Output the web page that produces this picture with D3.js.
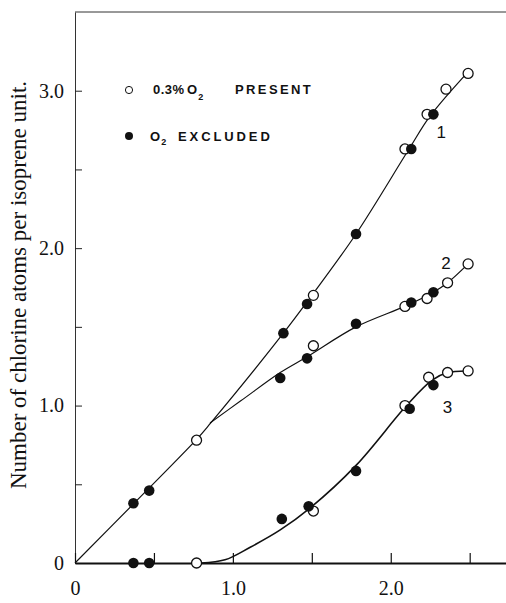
<!DOCTYPE html>
<html>
<head>
<meta charset="utf-8">
<script src="https://cdn.jsdelivr.net/npm/d3@7"></script>
<style>
  body { margin: 0; background: #fff; }
  svg { display: block; }
</style>
</head>
<body>
<script>
// measured points, [x, chlorine atoms per isoprene unit]
var curve1Open = [[0.77, 0.78], [1.51, 1.70], [2.09, 2.63], [2.23, 2.85], [2.35, 3.01], [2.49, 3.11]];
var curve1Filled = [[0.37, 0.38], [0.47, 0.46], [1.32, 1.46], [1.47, 1.645], [1.78, 2.09], [2.13, 2.63], [2.27, 2.85]];
var curve2Open = [[1.51, 1.38], [2.09, 1.63], [2.23, 1.68], [2.36, 1.78], [2.49, 1.90]];
var curve2Filled = [[1.30, 1.175], [1.47, 1.30], [1.78, 1.52], [2.13, 1.655], [2.27, 1.72]];
var curve3Open = [[0.77, 0], [1.51, 0.33], [2.09, 1.0], [2.24, 1.18], [2.36, 1.21], [2.49, 1.22]];
var curve3Filled = [[0.37, 0], [0.47, 0], [1.31, 0.28], [1.48, 0.36], [1.78, 0.585], [2.12, 0.98], [2.27, 1.13]];

// hand drawn curves
var curve1Line = [[0, 0], [0.37, 0.375], [0.77, 0.785], [0.86, 0.89], [1.32, 1.46], [1.5, 1.70], [1.78, 2.09], [2.11, 2.62], [2.25, 2.84], [2.49, 3.12]];
var curve2Line = [[0.855, 0.89], [1.05, 1.03], [1.3, 1.21], [1.47, 1.31], [1.78, 1.5], [2.1, 1.635], [2.27, 1.72], [2.36, 1.78], [2.49, 1.9]];
var curve3Line = [[0.8, 0], [0.95, 0.02], [1.11, 0.1], [1.3, 0.21], [1.49, 0.35], [1.78, 0.62], [2.1, 1.0], [2.26, 1.16], [2.36, 1.21], [2.49, 1.22]];

var curveLabels = [{ name: '1', at: [2.32, 2.70] }, { name: '2', at: [2.35, 1.87] }, { name: '3', at: [2.36, 0.95] }];

var xTicks = [0, 0.5, 1.0, 1.5, 2.0, 2.5];
var xTickLabels = { 0: '0', 1: '1.0', 2: '2.0' };
var yTicks = [0, 0.5, 1.0, 1.5, 2.0, 2.5, 3.0];
var yTickLabels = { 0: '0', 1: '1.0', 2: '2.0', 3: '3.0' };
var yTitle = 'Number of chlorine atoms per isoprene unit.';

var svg = d3.select('body').append('svg').attr('width', 506).attr('height', 603);

var xScale = d3.scaleLinear().domain([0, 2.73]).range([75, 506]);
var yScale = d3.scaleLinear().domain([0, 3.5]).range([563, 12]);

var serif = '"Liberation Serif", "DejaVu Serif", serif';
var sans = '"Liberation Sans", Arial, sans-serif';

// top frame line
svg.append('line')
  .attr('x1', xScale(0)).attr('x2', xScale(2.73))
  .attr('y1', yScale(3.5)).attr('y2', yScale(3.5))
  .attr('stroke', '#333').attr('stroke-width', 1);

var yAxis = svg.append('g')
  .attr('transform', 'translate(' + xScale(0) + ',0)')
  .call(d3.axisLeft(yScale)
    .tickValues(yTicks)
    .tickSizeInner(-7)
    .tickSizeOuter(0)
    .tickPadding(11)
    .tickFormat(function (d) { return yTickLabels[d] || ''; }));
yAxis.select('.domain').attr('stroke', '#333').attr('stroke-width', 1);
yAxis.selectAll('.tick line').attr('stroke', '#222');
yAxis.selectAll('text').attr('font-family', serif).attr('font-size', '20px').attr('fill', '#111');

var xAxis = svg.append('g')
  .attr('transform', 'translate(0,' + yScale(0) + ')')
  .call(d3.axisBottom(xScale)
    .tickValues(xTicks)
    .tickSizeInner(-10)
    .tickSizeOuter(0)
    .tickPadding(18)
    .tickFormat(function (d) { return xTickLabels[d] || ''; }));
xAxis.select('.domain').attr('stroke', '#111').attr('stroke-width', 2);
xAxis.selectAll('.tick line').attr('stroke', '#111').attr('stroke-width', 1.2);
xAxis.selectAll('text').attr('font-family', serif).attr('font-size', '20px').attr('fill', '#111');

svg.append('text')
  .attr('transform', 'translate(26,285) rotate(-90)')
  .attr('text-anchor', 'middle')
  .attr('font-family', serif)
  .attr('font-size', '23px')
  .attr('fill', '#111')
  .text(yTitle);

var line = d3.line()
  .x(function (d) { return xScale(d[0]); })
  .y(function (d) { return yScale(d[1]); })
  .curve(d3.curveCatmullRom);

[curve1Line, curve2Line, curve3Line].forEach(function (pts, i) {
  svg.append('path')
    .datum(pts)
    .attr('d', line)
    .attr('fill', 'none')
    .attr('stroke', '#111')
    .attr('stroke-width', i === 2 ? 1.6 : 1.2);
});

var openPts = curve1Open.concat(curve2Open, curve3Open);
var filledPts = curve1Filled.concat(curve2Filled, curve3Filled);

svg.selectAll('circle.open')
  .data(openPts)
  .enter()
  .append('circle')
  .attr('class', 'open')
  .attr('cx', function (d) { return xScale(d[0]); })
  .attr('cy', function (d) { return yScale(d[1]); })
  .attr('r', 5)
  .attr('fill', '#fff')
  .attr('stroke', '#111')
  .attr('stroke-width', 1.3);

svg.selectAll('circle.filled')
  .data(filledPts)
  .enter()
  .append('circle')
  .attr('class', 'filled')
  .attr('cx', function (d) { return xScale(d[0]); })
  .attr('cy', function (d) { return yScale(d[1]); })
  .attr('r', 5.3)
  .attr('fill', '#111');

svg.selectAll('text.curve')
  .data(curveLabels)
  .enter()
  .append('text')
  .attr('class', 'curve')
  .attr('x', function (d) { return xScale(d.at[0]); })
  .attr('y', function (d) { return yScale(d.at[1]); })
  .attr('text-anchor', 'middle')
  .attr('font-family', sans)
  .attr('font-size', '17px')
  .attr('fill', '#111')
  .text(function (d) { return d.name; });

// legend
var legend = svg.append('g')
  .attr('font-family', sans)
  .attr('font-weight', 'bold')
  .attr('font-size', '13px')
  .attr('fill', '#111');

legend.append('circle').attr('cx', 129).attr('cy', 90).attr('r', 3.6)
  .attr('fill', '#fff').attr('stroke', '#111').attr('stroke-width', 1);
var t1 = legend.append('text').attr('x', 153).attr('y', 94);
t1.append('tspan').style('letter-spacing', '0.5px').text('0.3%');
t1.append('tspan').attr('x', 187).text('O');
t1.append('tspan').attr('dx', 1).attr('dy', 6).attr('font-size', '9px').text('2');
t1.append('tspan').attr('x', 235).attr('dy', -6).style('letter-spacing', '2.4px').text('PRESENT');

legend.append('circle').attr('cx', 129).attr('cy', 136).attr('r', 4)
  .attr('fill', '#111');
var t2 = legend.append('text').attr('x', 150).attr('y', 141);
t2.append('tspan').text('O');
t2.append('tspan').attr('dx', 1).attr('dy', 4).attr('font-size', '9px').text('2');
t2.append('tspan').attr('x', 178).attr('dy', -4).style('letter-spacing', '2.9px').text('EXCLUDED');
</script>
</body>
</html>
